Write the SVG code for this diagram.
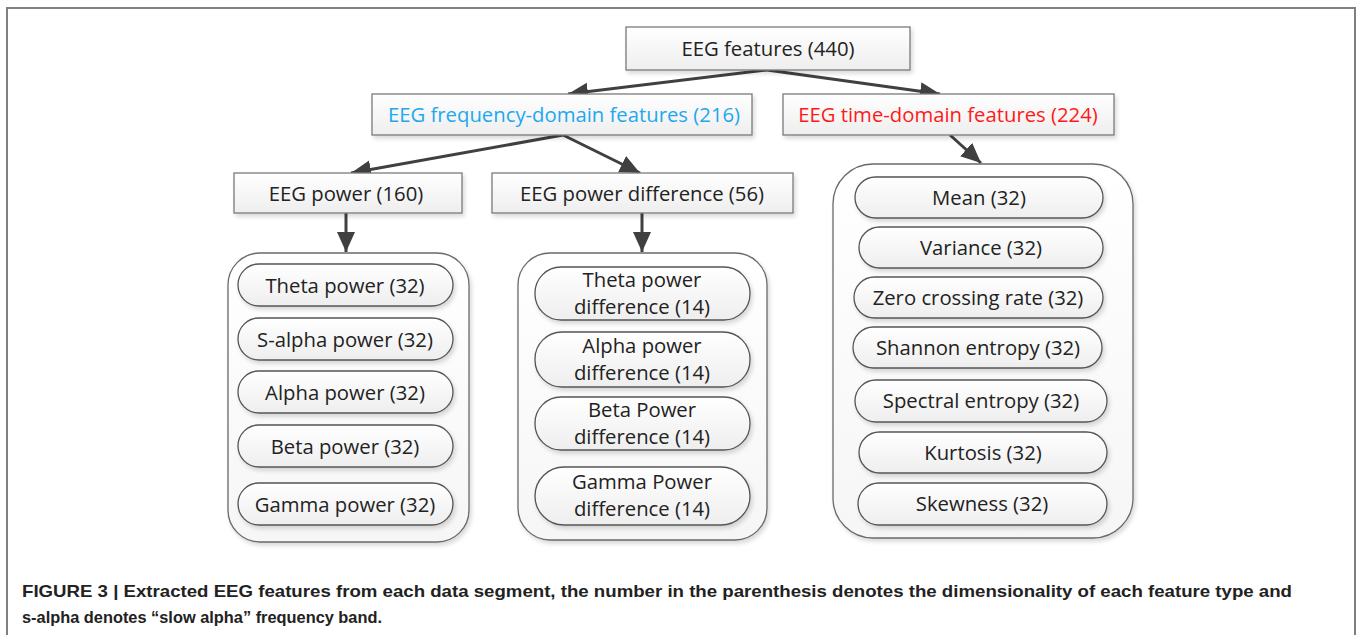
<svg xmlns="http://www.w3.org/2000/svg" width="1362" height="635" viewBox="0 0 1362 635">
<style>
text{font-family:"Open Sans","Noto Sans","DejaVu Sans",sans-serif;font-size:20.3px;fill:#222;text-anchor:middle;dominant-baseline:central}
.box{fill:url(#g);stroke:#7a7a7a;stroke-width:1.3;filter:url(#sh)}
.cont{fill:url(#g2);stroke:#6a6a6a;stroke-width:1.3;filter:url(#sh)}
.pill{fill:url(#g);stroke:#555;stroke-width:1.3;filter:url(#sh)}
.con{stroke:#404040;stroke-width:3;fill:none;marker-end:url(#ah)}
.cap{font-family:"Liberation Sans",Arial,sans-serif;font-weight:bold;font-size:16.5px;fill:#222;text-anchor:start;dominant-baseline:auto}
</style>
<defs>
<linearGradient id="g" x1="0" y1="0" x2="0" y2="1"><stop offset="0" stop-color="#ffffff"/><stop offset="1" stop-color="#eeeeee"/></linearGradient>
<linearGradient id="g2" x1="0" y1="0" x2="0" y2="1"><stop offset="0" stop-color="#ffffff"/><stop offset="1" stop-color="#f6f6f6"/></linearGradient>
<filter id="sh" x="-10%" y="-10%" width="125%" height="130%"><feDropShadow dx="2" dy="3" stdDeviation="2" flood-color="#000" flood-opacity="0.15"/></filter>
<marker id="ah" markerUnits="userSpaceOnUse" markerWidth="24" markerHeight="20" refX="20" refY="9" orient="auto"><path d="M0,0 L20,9 L0,18 Z" fill="#404040"/></marker>
</defs>
<rect x="7" y="8" width="1348" height="640" fill="#fff" stroke="#808080" stroke-width="2"/>

<g id="connectors">
<line class="con" x1="767" y1="70" x2="568" y2="94"/>
<line class="con" x1="767" y1="70" x2="940" y2="94"/>
<line class="con" x1="563" y1="135" x2="351" y2="173"/>
<line class="con" x1="563" y1="135" x2="640" y2="173"/>
<line class="con" x1="346" y1="213" x2="346" y2="252"/>
<line class="con" x1="642" y1="213" x2="642" y2="252"/>
<line class="con" x1="950" y1="135" x2="981" y2="163"/>
</g>

<g id="root"><rect class="box" x="626" y="27" width="284" height="43"/><text x="768" y="48">EEG features (440)</text></g>
<g id="freq"><rect class="box" x="372" y="94" width="380" height="41"/><text x="564" y="114" style="fill:#1ea8ee">EEG frequency-domain features (216)</text></g>
<g id="time"><rect class="box" x="783" y="94" width="331" height="41"/><text x="948" y="114" style="fill:#ff1a1a">EEG time-domain features (224)</text></g>
<g id="power"><rect class="box" x="234" y="173" width="228" height="40"/><text x="346" y="193">EEG power (160)</text></g>
<g id="powerdiff"><rect class="box" x="492" y="173" width="301" height="40"/><text x="642" y="193">EEG power difference (56)</text></g>

<g id="powergroup">
<rect class="cont" x="228" y="253" width="241" height="289" rx="32"/>
<g id="theta"><rect class="pill" x="238" y="264" width="215" height="42" rx="21"/><text x="345" y="285">Theta power (32)</text></g>
<g id="salpha"><rect class="pill" x="238" y="318" width="215" height="42" rx="21"/><text x="345" y="339">S-alpha power (32)</text></g>
<g id="alpha"><rect class="pill" x="238" y="371" width="215" height="42" rx="21"/><text x="345" y="392">Alpha power (32)</text></g>
<g id="beta"><rect class="pill" x="238" y="425" width="215" height="42" rx="21"/><text x="345" y="446">Beta power (32)</text></g>
<g id="gamma"><rect class="pill" x="238" y="483" width="215" height="42" rx="21"/><text x="345" y="504">Gamma power (32)</text></g>
</g>

<g id="diffgroup">
<rect class="cont" x="518" y="253" width="249" height="287" rx="32"/>
<g id="thetadiff"><rect class="pill" x="535" y="267" width="215" height="53" rx="26"/><text x="642" y="279">Theta power</text><text x="642" y="306">difference (14)</text></g>
<g id="alphadiff"><rect class="pill" x="535" y="332" width="215" height="55" rx="27"/><text x="642" y="345">Alpha power</text><text x="642" y="372">difference (14)</text></g>
<g id="betadiff"><rect class="pill" x="535" y="397" width="215" height="53" rx="26"/><text x="642" y="409">Beta Power</text><text x="642" y="436">difference (14)</text></g>
<g id="gammadiff"><rect class="pill" x="535" y="467" width="215" height="58" rx="29"/><text x="642" y="481">Gamma Power</text><text x="642" y="508">difference (14)</text></g>
</g>

<g id="timegroup">
<rect class="cont" x="833" y="164" width="300" height="374" rx="40"/>
<g id="mean"><rect class="pill" x="855" y="177" width="248" height="41" rx="20.5"/><text x="979" y="197">Mean (32)</text></g>
<g id="variance"><rect class="pill" x="859" y="227" width="244" height="41" rx="20.5"/><text x="981" y="247">Variance (32)</text></g>
<g id="zcr"><rect class="pill" x="854" y="277" width="249" height="41" rx="20.5"/><text x="978" y="297">Zero crossing rate (32)</text></g>
<g id="shannon"><rect class="pill" x="853" y="327" width="249" height="41" rx="20.5"/><text x="978" y="347">Shannon entropy (32)</text></g>
<g id="spectral"><rect class="pill" x="855" y="380" width="252" height="42" rx="21"/><text x="981" y="400">Spectral entropy (32)</text></g>
<g id="kurtosis"><rect class="pill" x="859" y="432" width="248" height="41" rx="20.5"/><text x="983" y="452">Kurtosis (32)</text></g>
<g id="skewness"><rect class="pill" x="858" y="483" width="249" height="42" rx="21"/><text x="982" y="503">Skewness (32)</text></g>
</g>

<text class="cap" x="22" y="597" textLength="1270" lengthAdjust="spacingAndGlyphs">FIGURE 3 | Extracted EEG features from each data segment, the number in the parenthesis denotes the dimensionality of each feature type and</text>
<text class="cap" x="22" y="623" textLength="360" lengthAdjust="spacingAndGlyphs">s-alpha denotes “slow alpha” frequency band.</text>
</svg>
